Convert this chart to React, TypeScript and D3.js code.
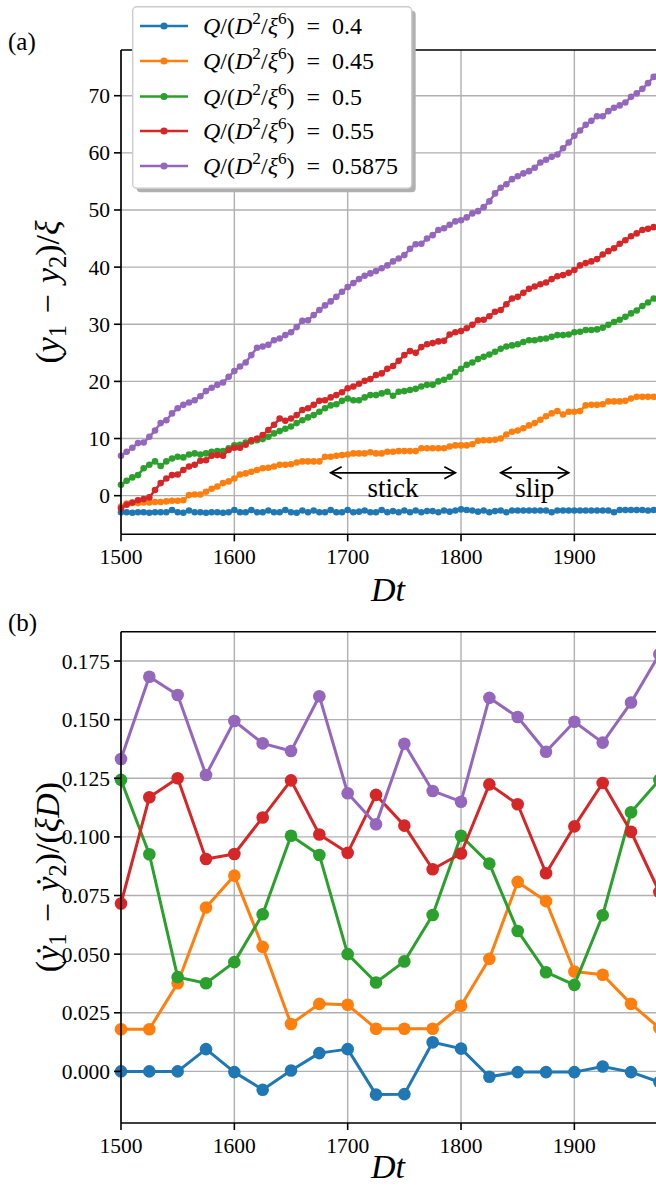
import { useEffect, useRef } from 'react';
import * as d3 from 'd3';

// time axes
const timeA = d3.range(1500, 1980, 5);
const timeB = d3.range(1500, 2000, 25);

const qLabels = ['0.4', '0.45', '0.5', '0.55', '0.5875'];
const colors = ['#1f77b4', '#ff7f0e', '#2ca02c', '#d62728', '#9467bd'];

const xTicks = [1500, 1600, 1700, 1800, 1900];
const yTicksA = [0, 10, 20, 30, 40, 50, 60, 70];
const yTicksB = [0, 0.025, 0.05, 0.075, 0.1, 0.125, 0.15, 0.175];

// (a) separation (y1 - y2)/xi, every 5 time units
const sepQ040 = [
  -2.9, -2.9, -3.0, -2.9, -2.9, -3.0, -2.9, -2.9, -2.9, -2.5,
  -2.9, -3.0, -2.6, -2.9, -2.9, -3.0, -2.9, -2.9, -3.0, -2.9,
  -2.5, -2.9, -2.9, -2.5, -2.9, -2.9, -2.6, -2.9, -2.9, -2.5,
  -2.9, -3.0, -2.6, -2.9, -2.6, -2.9, -2.9, -2.5, -2.9, -2.9,
  -2.5, -2.9, -2.8, -2.6, -2.9, -2.9, -2.5, -2.9, -2.7, -2.9,
  -2.6, -2.9, -2.6, -2.9, -2.7, -2.7, -2.9, -2.6, -2.8, -2.6,
  -2.4, -2.5, -2.6, -2.8, -2.6, -2.9, -2.7, -2.6, -2.9, -2.6,
  -2.6, -2.6, -2.6, -2.6, -2.6, -2.6, -2.9, -2.6, -2.6, -2.6,
  -2.6, -2.6, -2.6, -2.6, -2.6, -2.6, -2.6, -2.9, -2.5, -2.5,
  -2.5, -2.5, -2.5, -2.6, -2.5, -2.5,
];
const sepQ045 = [
  -1.9, -1.4, -1.3, -1.3, -1.2, -1.2, -1.1, -1.1, -1.0, -0.9,
  -0.9, -0.8, 0.1, 0.2, 0.2, 0.7, 1.2, 1.6, 2.2, 2.5,
  3.0, 3.7, 3.9, 4.2, 4.5, 4.8, 4.9, 5.1, 5.4, 5.4,
  5.5, 5.8, 6.0, 6.0, 6.0, 6.0, 6.8, 6.8, 7.0, 7.1,
  7.2, 7.4, 7.4, 7.4, 7.6, 7.4, 7.4, 7.7, 7.7, 7.8,
  7.8, 7.8, 7.8, 8.3, 8.3, 8.3, 8.3, 8.3, 8.6, 8.8,
  8.8, 8.8, 9.0, 9.6, 9.7, 9.7, 9.8, 10.0, 10.7, 11.2,
  11.4, 11.8, 12.3, 12.7, 13.3, 13.9, 14.4, 14.8, 14.2, 14.7,
  14.7, 14.8, 15.8, 15.9, 15.9, 16.0, 16.5, 16.5, 16.5, 16.6,
  17.0, 17.3, 17.3, 17.3, 17.3, 17.3,
];
const sepQ050 = [
  1.9, 2.6, 3.2, 3.6, 4.8, 5.4, 6.0, 5.2, 6.0, 6.5,
  6.8, 6.7, 7.2, 7.4, 7.2, 7.4, 7.7, 7.8, 7.8, 8.3,
  8.8, 8.9, 9.3, 9.5, 9.7, 9.9, 10.3, 10.9, 11.3, 11.7,
  12.1, 12.7, 13.2, 13.7, 14.1, 14.7, 15.3, 15.8, 16.0, 16.6,
  17.0, 16.7, 16.7, 17.2, 17.6, 17.6, 17.9, 18.2, 17.5, 18.2,
  18.3, 18.5, 18.7, 19.1, 19.4, 19.4, 20.0, 20.3, 20.8, 21.6,
  22.2, 22.9, 23.3, 23.9, 24.3, 24.7, 25.2, 25.7, 26.1, 26.3,
  26.5, 26.9, 27.2, 27.2, 27.4, 27.5, 27.8, 28.1, 28.1, 28.2,
  28.6, 28.7, 29.0, 29.0, 29.1, 29.4, 29.9, 30.4, 30.8, 31.3,
  31.9, 32.4, 33.2, 33.8, 34.5, 35.1,
];
const sepQ055 = [
  -2.2, -1.6, -1.2, -0.8, -0.6, -0.3, 1.0, 2.2, 3.0, 3.6,
  3.7, 4.5, 5.1, 5.4, 6.1, 6.2, 7.0, 7.1, 7.0, 8.0,
  8.4, 8.4, 8.9, 9.7, 10.0, 10.6, 11.5, 12.4, 13.5, 13.1,
  13.5, 14.1, 15.0, 15.3, 15.9, 16.6, 16.7, 17.2, 17.6, 18.1,
  18.8, 19.1, 19.6, 20.1, 20.4, 21.1, 21.4, 22.2, 22.7, 23.6,
  24.6, 25.3, 25.0, 26.0, 26.5, 26.7, 27.0, 27.1, 28.2, 28.6,
  28.8, 29.3, 29.9, 30.7, 30.8, 31.4, 32.2, 32.5, 33.5, 34.5,
  34.8, 35.5, 36.2, 36.6, 37.0, 37.3, 37.9, 38.4, 38.6, 39.0,
  39.5, 40.3, 40.7, 41.0, 41.4, 42.2, 42.8, 43.3, 44.1, 44.7,
  45.4, 45.9, 46.5, 46.7, 47.0, 47.4,
];
const sepQ05875 = [
  7.0, 7.7, 8.4, 9.2, 9.3, 10.3, 11.4, 12.7, 13.2, 14.4,
  15.3, 15.9, 16.3, 16.7, 17.4, 18.3, 18.9, 19.4, 19.8, 20.8,
  21.8, 22.6, 23.3, 24.6, 25.9, 26.1, 26.4, 27.2, 27.5, 28.1,
  28.6, 29.5, 30.6, 30.7, 31.6, 32.5, 33.3, 34.0, 34.8, 35.7,
  36.5, 37.2, 37.9, 38.5, 38.9, 39.3, 39.8, 40.3, 41.0, 41.5,
  42.1, 43.2, 44.0, 44.1, 45.0, 45.6, 46.5, 46.8, 47.4, 48.0,
  48.2, 48.7, 49.4, 49.8, 50.5, 51.5, 52.9, 53.9, 54.5, 55.4,
  55.9, 56.4, 56.8, 57.4, 58.3, 58.8, 59.3, 59.7, 60.8, 61.8,
  63.0, 63.9, 64.9, 65.6, 66.4, 66.4, 67.3, 67.9, 68.3, 68.8,
  69.8, 70.4, 71.2, 72.2, 73.3, 74.2,
];

// (b) relative velocity, every 25 time units
const velQ040 = [0.0, 0.0, 0.0, 0.0095, -0.0003, -0.0078, 0.0004, 0.0078, 0.0095, -0.0099,
  -0.0097, 0.0124, 0.0097, -0.0023, -0.0003, -0.0003, -0.0003, 0.0021, -0.0003, -0.0045];
const velQ045 = [0.018, 0.018, 0.0376, 0.0699, 0.0835, 0.0531, 0.0202, 0.0288, 0.0284, 0.0182,
  0.0182, 0.0182, 0.028, 0.048, 0.0808, 0.0726, 0.0426, 0.0412, 0.0288, 0.0185];
const velQ050 = [0.1243, 0.0926, 0.0402, 0.0376, 0.0466, 0.067, 0.1005, 0.0923, 0.05, 0.0379,
  0.0469, 0.0667, 0.1005, 0.0886, 0.0599, 0.0423, 0.0369, 0.0666, 0.1105, 0.1243];
const velQ055 = [0.0716, 0.1169, 0.125, 0.0906, 0.0927, 0.1083, 0.1241, 0.101, 0.0932, 0.1179,
  0.1048, 0.0862, 0.0929, 0.1224, 0.1139, 0.0845, 0.1045, 0.123, 0.1022, 0.0765];
const velQ05875 = [0.1332, 0.1683, 0.1605, 0.1264, 0.1494, 0.1399, 0.1366, 0.16, 0.1186, 0.1054,
  0.1397, 0.1196, 0.115, 0.1593, 0.1511, 0.1363, 0.1491, 0.1402, 0.1573, 0.1779];

const sepSeries = [sepQ040, sepQ045, sepQ050, sepQ055, sepQ05875];
const velSeries = [velQ040, velQ045, velQ050, velQ055, velQ05875];

// stick / slip annotations (panel a)
const arrows = [
  { from: 1685, to: 1795, y: 4.0, label: 'stick', lx: 1740 },
  { from: 1835, to: 1895, y: 4.0, label: 'slip', lx: 1865 },
];

const SERIF = '"Liberation Serif", "DejaVu Serif", serif';
const TICK = 21.5;
const LABEL = 34;
const SP = '\u2002';
const MSP = '\u2004';

type Part = { t: string; it?: boolean; sub?: boolean; sup?: boolean };

function addMath(text: any, parts: Part[], size: number) {
  let shift = 0;
  parts.forEach((p) => {
    const target = p.sub ? size * 0.22 : p.sup ? -size * 0.4 : 0;
    const ts = text.append('tspan').attr('dy', target - shift).text(p.t);
    shift = target;
    if (p.it) ts.attr('font-style', 'italic');
    if (p.sub || p.sup) ts.attr('font-size', size * 0.72);
  });
}

const legendParts = (v: string): Part[] => [
  { t: 'Q', it: true }, { t: '/(' }, { t: 'D', it: true }, { t: '2', sup: true },
  { t: '/' }, { t: 'ξ', it: true }, { t: '6', sup: true }, { t: `)${SP}=${SP}${v}` },
];

export default function App() {
  const svgRef = useRef<SVGSVGElement>(null);

  useEffect(() => {
    const svg = d3.select(svgRef.current);
    svg.selectAll('*').remove();

    const left = 121;
    const x = d3.scaleLinear().domain([1500, 2000]).range([left, 687.7]);
    const right = 700;

    const panel = (
      yScale: d3.ScaleLinear<number, number>,
      yTicks: number[],
      fmt: (d: number) => string,
    ) => {
      const [bottom, top] = yScale.range();
      const g = svg.append('g');
      // grid
      g.selectAll('.gx').data(xTicks).join('line')
        .attr('x1', (d) => x(d)).attr('x2', (d) => x(d))
        .attr('y1', top).attr('y2', bottom)
        .attr('stroke', '#b0b0b0').attr('stroke-width', 1.4);
      g.selectAll('.gy').data(yTicks).join('line')
        .attr('x1', left).attr('x2', right)
        .attr('y1', (d) => yScale(d)).attr('y2', (d) => yScale(d))
        .attr('stroke', '#b0b0b0').attr('stroke-width', 1.4);
      return { g, top, bottom, fmt, yScale, yTicks };
    };

    const axes = (p: any, xlabelY: number) => {
      const { g, top, bottom, fmt, yScale, yTicks } = p;
      g.append('line').attr('x1', left).attr('x2', left).attr('y1', top).attr('y2', bottom)
        .attr('stroke', 'black').attr('stroke-width', 1.6);
      g.append('line').attr('x1', left).attr('x2', right).attr('y1', top).attr('y2', top)
        .attr('stroke', 'black').attr('stroke-width', 1.6);
      g.append('line').attr('x1', left).attr('x2', right).attr('y1', bottom).attr('y2', bottom)
        .attr('stroke', 'black').attr('stroke-width', 1.6);
      // x ticks
      g.selectAll('.xt').data(xTicks).join('line')
        .attr('x1', (d: number) => x(d)).attr('x2', (d: number) => x(d))
        .attr('y1', bottom).attr('y2', bottom + 7)
        .attr('stroke', 'black').attr('stroke-width', 1.6);
      g.selectAll('.xl').data(xTicks).join('text')
        .attr('x', (d: number) => x(d)).attr('y', bottom + 30)
        .attr('text-anchor', 'middle').attr('font-family', SERIF).attr('font-size', TICK)
        .text((d: number) => d);
      // y ticks
      g.selectAll('.yt').data(yTicks).join('line')
        .attr('x1', left - 7).attr('x2', left)
        .attr('y1', (d: number) => yScale(d)).attr('y2', (d: number) => yScale(d))
        .attr('stroke', 'black').attr('stroke-width', 1.6);
      g.selectAll('.yl').data(yTicks).join('text')
        .attr('x', left - 11).attr('y', (d: number) => yScale(d) + 7.5)
        .attr('text-anchor', 'end').attr('font-family', SERIF).attr('font-size', TICK)
        .text((d: number) => fmt(d));
      // x label
      const xl = g.append('text').attr('x', 388).attr('y', xlabelY)
        .attr('text-anchor', 'middle').attr('font-family', SERIF).attr('font-size', LABEL);
      addMath(xl, [{ t: 'Dt', it: true }], LABEL);
    };

    const drawSeries = (g: any, times: number[], series: number[][], yScale: any, lw: number, r: number) => {
      series.forEach((vals, i) => {
        const pts = times.map((t, j) => [t, vals[j]] as [number, number]);
        const line = d3.line<[number, number]>().x((d) => x(d[0])).y((d) => yScale(d[1]));
        g.append('path').attr('d', line(pts)).attr('fill', 'none')
          .attr('stroke', colors[i]).attr('stroke-width', lw).attr('stroke-linejoin', 'round');
        g.append('g').selectAll('circle').data(pts).join('circle')
          .attr('cx', (d: [number, number]) => x(d[0])).attr('cy', (d: [number, number]) => yScale(d[1]))
          .attr('r', r).attr('fill', colors[i]);
      });
    };

    // ---------- panel (a)
    const yA = d3.scaleLinear().domain([-6.76, 78.0]).range([534.3, 50]);
    const pA = panel(yA, yTicksA, (d) => String(d));
    drawSeries(pA.g, timeA, sepSeries, yA, 2.5, 3.3);

    // arrows
    arrows.forEach((a) => {
      const y0 = yA(a.y);
      const x1 = x(a.from);
      const x2 = x(a.to);
      const ag = pA.g.append('g').attr('stroke', 'black').attr('stroke-width', 1.7).attr('fill', 'none');
      ag.append('line').attr('x1', x1).attr('x2', x2).attr('y1', y0).attr('y2', y0);
      ag.append('path').attr('d', `M${x1 + 11},${y0 - 6}L${x1},${y0}L${x1 + 11},${y0 + 6}`);
      ag.append('path').attr('d', `M${x2 - 11},${y0 - 6}L${x2},${y0}L${x2 - 11},${y0 + 6}`);
      pA.g.append('text').attr('x', x(a.lx)).attr('y', yA(-0.2))
        .attr('text-anchor', 'middle').attr('font-family', SERIF).attr('font-size', 27)
        .text(a.label);
    });
    axes(pA, 601);

    const ylA = svg.append('text').attr('transform', 'translate(59,292) rotate(-90)')
      .attr('text-anchor', 'middle').attr('font-family', SERIF).attr('font-size', LABEL);
    addMath(ylA, [
      { t: '(' }, { t: 'y', it: true }, { t: '1', sub: true }, { t: `${MSP}−${MSP}` },
      { t: 'y', it: true }, { t: '2', sub: true }, { t: ')/' }, { t: 'ξ', it: true },
    ], LABEL);

    svg.append('text').attr('x', 8).attr('y', 50).attr('font-family', SERIF).attr('font-size', 25).text('(a)');

    // legend
    const lg = svg.append('g');
    lg.append('rect').attr('x', 136.7).attr('y', 10.7).attr('width', 279).attr('height', 181.6)
      .attr('rx', 4).attr('fill', '#b0b0b0');
    lg.append('rect').attr('x', 132.7).attr('y', 6.7).attr('width', 279).attr('height', 181.6)
      .attr('rx', 4).attr('fill', 'white').attr('stroke', '#cccccc').attr('stroke-width', 1.4);
    const rowY = [26, 61, 96.5, 131, 166];
    qLabels.forEach((q, i) => {
      const yy = rowY[i];
      lg.append('line').attr('x1', 140).attr('x2', 188).attr('y1', yy).attr('y2', yy)
        .attr('stroke', colors[i]).attr('stroke-width', 2.6);
      lg.append('circle').attr('cx', 164).attr('cy', yy).attr('r', 3.6).attr('fill', colors[i]);
      const t = lg.append('text').attr('x', 203).attr('y', yy + 8)
        .attr('font-family', SERIF).attr('font-size', 24);
      addMath(t, legendParts(q), 24);
    });

    // ---------- panel (b)
    const yB = d3.scaleLinear().domain([-0.022, 0.1875]).range([1123, 631.7]);
    const pB = panel(yB, yTicksB, d3.format('.3f'));
    drawSeries(pB.g, timeB, velSeries, yB, 3, 6.3);
    axes(pB, 1178);

    const ylB = svg.append('text').attr('transform', 'translate(59,877) rotate(-90)')
      .attr('text-anchor', 'middle').attr('font-family', SERIF).attr('font-size', LABEL);
    addMath(ylB, [
      { t: '(' }, { t: 'ẏ', it: true }, { t: '1', sub: true }, { t: `${MSP}−${MSP}` },
      { t: 'ẏ', it: true }, { t: '2', sub: true }, { t: ')/(' }, { t: 'ξD', it: true }, { t: ')' },
    ], LABEL);

    svg.append('text').attr('x', 8).attr('y', 631).attr('font-family', SERIF).attr('font-size', 25).text('(b)');
  }, []);

  return (
    <svg
      ref={svgRef}
      width={656}
      height={1186}
      style={{ position: 'absolute', left: 0, top: 0, background: 'white' }}
    />
  );
}
